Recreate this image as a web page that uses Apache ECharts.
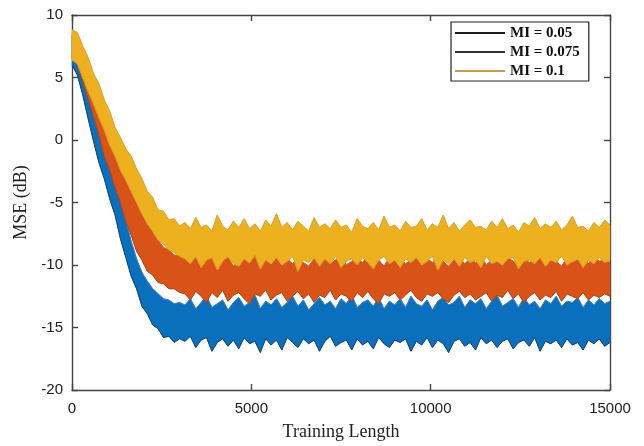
<!DOCTYPE html>
<html><head><meta charset="utf-8">
<script src="https://cdn.jsdelivr.net/npm/echarts@6/dist/echarts.min.js"></script>
<style>html,body{margin:0;padding:0;background:#fff}#c{width:644px;height:446px}</style>
</head><body><div id="c"></div>
<script>
// sample positions (training length)
const xs = [0,150,300,450,600,750,900,1050,1200,1350,
1500,1650,1800,1950,2100,2250,2400,2550,2700,2850,
3000,3150,3300,3450,3600,3750,3900,4050,4200,4350,
4500,4650,4800,4950,5100,5250,5400,5550,5700,5850,
6000,6150,6300,6450,6600,6750,6900,7050,7200,7350,
7500,7650,7800,7950,8100,8250,8400,8550,8700,8850,
9000,9150,9300,9450,9600,9750,9900,10050,10200,10350,
10500,10650,10800,10950,11100,11250,11400,11550,11700,11850,
12000,12150,12300,12450,12600,12750,12900,13050,13200,13350,
13500,13650,13800,13950,14100,14250,14400,14550,14700,14850,
15000];

const seriesNames = ['MI = 0.05','MI = 0.075','MI = 0.1'];
const xTicks = [0,5000,10000,15000];
const yTicks = [-20,-15,-10,-5,0,5,10];

// MI = 0.1 (yellow) upper / lower envelope of the noisy MSE trace, dB
const mi10Upper = [8.8,8.6,7.5,6.6,5.3,4.5,3.2,2.3,1.0,0.2,-0.7,-1.3,-2.3,-3.1,-4.1,-4.6,-5.6,-5.7,-6.4,-6.3,-6.9,
-6.6,-7.1,-6.2,-7.0,-6.8,-7.3,-6.0,-6.9,-7.2,-6.5,
-7.0,-6.3,-7.1,-6.7,-7.3,-6.4,-6.9,-5.9,-7.0,-6.6,
-7.2,-6.5,-6.9,-7.3,-6.2,-7.0,-6.7,-7.1,-6.4,-7.0,
-6.8,-7.4,-6.3,-6.9,-7.1,-6.6,-7.2,-6.1,-7.0,-6.8,
-7.3,-6.5,-7.0,-6.9,-6.3,-7.2,-6.7,-7.0,-6.0,-7.1,
-6.6,-7.3,-6.8,-6.4,-7.0,-6.9,-7.2,-6.5,-7.0,-6.3,
-7.1,-6.8,-7.4,-6.6,-6.9,-6.2,-7.1,-6.7,-7.0,-6.5,
-7.2,-6.8,-6.1,-7.0,-6.9,-7.3,-6.6,-7.0,-6.4,-6.8];
const mi10Lower = [6.4,6.1,5.0,3.9,2.9,1.8,0.8,-0.4,-1.3,-2.4,-3.2,-4.1,-5.0,-5.9,-6.7,-7.3,-8.0,-8.3,-8.8,-9.0,-9.3,
-9.5,-9.9,-9.3,-10.2,-9.6,-9.4,-10.4,-9.7,-9.3,-9.9,
-10.1,-9.5,-9.8,-9.2,-10.3,-9.6,-9.9,-9.4,-10.0,-9.7,
-9.3,-10.5,-9.6,-9.8,-9.4,-10.1,-9.5,-9.9,-9.3,-10.2,
-9.7,-9.5,-10.0,-9.4,-9.8,-10.3,-9.6,-9.3,-9.9,-9.6,
-10.2,-9.5,-9.8,-9.4,-10.0,-9.7,-9.3,-10.4,-9.6,-9.9,
-9.5,-10.1,-9.4,-9.8,-9.6,-10.2,-9.3,-9.9,-9.7,-10.0,
-9.5,-9.4,-10.3,-9.7,-9.6,-9.9,-9.4,-10.1,-9.6,-9.8,
-9.3,-10.0,-9.7,-9.5,-10.2,-9.6,-9.9,-9.4,-9.8,-9.6];

// MI = 0.075 (orange)
const mi075Upper = [8.4,8.0,7.0,5.8,4.4,3.1,1.8,0.5,-0.8,-2.0,-3.2,-4.0,-4.9,-5.8,-6.6,-7.4,-8.0,-8.6,-8.8,-9.2,-9.3,
-9.5,-9.8,-9.4,-10.0,-9.6,-9.3,-9.9,-9.7,-9.4,-10.1,
-9.6,-9.5,-9.9,-9.3,-9.8,-9.6,-10.0,-9.4,-9.7,-9.5,
-9.9,-9.4,-9.8,-10.1,-9.5,-9.7,-9.3,-9.9,-9.6,-9.4,
-10.0,-9.7,-9.5,-9.8,-9.3,-9.9,-9.6,-10.1,-9.4,-9.7,
-9.5,-9.9,-9.6,-9.3,-10.0,-9.5,-9.8,-9.4,-9.7,-10.1,
-9.6,-9.4,-9.9,-9.5,-9.8,-9.3,-10.0,-9.6,-9.5,-9.9,
-9.4,-9.7,-10.0,-9.5,-9.8,-9.6,-9.3,-9.9,-9.5,-9.7,
-10.1,-9.4,-9.8,-9.6,-9.5,-9.9,-9.3,-9.7,-9.6,-9.8];
const mi075Lower = [6.6,6.0,4.7,3.3,1.9,0.4,-1.3,-2.4,-3.8,-5.0,-6.5,-7.6,-8.9,-9.6,-10.5,-10.8,-11.4,-11.5,-11.9,-11.9,-12.2,
-12.3,-12.8,-12.1,-12.5,-13.0,-12.2,-12.6,-12.0,-12.9,-12.4,
-12.2,-12.7,-13.1,-12.3,-12.5,-12.0,-12.8,-12.4,-12.2,-12.9,
-12.5,-12.1,-12.7,-12.3,-13.0,-12.4,-12.6,-12.0,-12.8,-12.3,
-12.5,-12.9,-12.2,-12.6,-12.1,-12.7,-13.1,-12.3,-12.5,-12.2,
-12.8,-12.4,-12.0,-12.6,-12.9,-12.3,-12.5,-12.2,-12.7,-13.0,
-12.4,-12.1,-12.6,-12.3,-12.8,-12.5,-12.2,-12.9,-12.4,-12.6,
-12.0,-12.7,-12.3,-13.0,-12.5,-12.2,-12.8,-12.4,-12.6,-12.1,
-12.9,-12.3,-12.5,-12.7,-12.2,-12.8,-12.4,-12.6,-12.3,-12.5];

// MI = 0.05 (blue)
const mi05Upper = [8.3,7.7,6.0,4.3,2.5,0.9,-0.5,-1.9,-3.4,-4.8,-6.4,-8.1,-9.5,-10.6,-11.3,-11.9,-12.3,-12.7,-12.8,-13.1,-13.0,
-13.2,-12.7,-13.5,-13.0,-12.5,-13.4,-13.1,-12.8,-13.6,-13.0,
-12.6,-13.3,-13.0,-12.4,-13.5,-12.9,-13.2,-12.7,-13.4,-13.0,
-12.5,-13.3,-12.8,-13.6,-13.1,-12.6,-13.2,-12.9,-13.5,-12.7,
-13.1,-12.4,-13.4,-13.0,-12.8,-13.3,-12.6,-13.5,-12.9,-13.2,
-12.7,-13.4,-12.5,-13.1,-13.3,-12.8,-13.6,-12.9,-12.6,-13.2,
-13.0,-12.5,-13.4,-12.8,-13.1,-12.7,-13.5,-12.9,-12.4,-13.3,
-13.0,-12.7,-13.4,-12.6,-13.2,-12.9,-13.5,-12.8,-13.1,-12.5,
-13.3,-12.9,-13.0,-12.6,-13.4,-12.8,-13.2,-12.7,-13.1,-12.9];
const mi05Lower = [6.0,5.2,3.6,1.7,-0.1,-1.8,-3.1,-4.7,-6.0,-7.9,-9.4,-10.9,-11.9,-13.3,-13.9,-14.8,-15.1,-15.8,-15.7,-16.2,-15.9,
-16.1,-15.7,-16.6,-16.0,-15.8,-16.9,-16.2,-15.9,-16.5,-16.0,
-16.7,-15.8,-16.3,-16.1,-17.0,-15.9,-16.4,-16.0,-16.8,-15.8,
-16.2,-16.6,-15.9,-16.3,-16.0,-16.9,-16.1,-15.7,-16.5,-16.2,
-16.0,-16.8,-15.9,-16.4,-16.1,-16.7,-15.8,-16.3,-16.6,-16.0,
-16.2,-15.9,-16.9,-16.1,-16.4,-15.8,-16.6,-16.0,-16.3,-17.0,
-16.1,-15.9,-16.5,-16.2,-16.8,-15.8,-16.3,-16.0,-16.6,-16.1,
-15.9,-16.7,-16.2,-16.0,-16.5,-15.8,-16.9,-16.1,-16.3,-16.0,
-16.6,-15.9,-16.4,-16.2,-16.8,-16.0,-16.3,-15.9,-16.5,-16.2];

const chart = echarts.init(document.getElementById('c'), null, {renderer:'canvas'});

function band(name, upper, lower, fill, topLine, lowLine, z) {
  const data = xs.map((x,i)=>[x, upper[i], lower[i]]);
  return {
    name: name, type:'custom', data: data, z: z, silent:true, animation:false,
    encode:{x:0, y:[1,2]},
    itemStyle:{color:fill},
    renderItem: function(params, api) {
      if (params.dataIndex !== 0) return null;
      const up = data.map(d => api.coord([d[0], d[1]]));
      const lo = data.map(d => api.coord([d[0], d[2]]));
      const poly = up.concat(lo.slice().reverse());
      return {
        type:'group',
        children:[
          {type:'polygon', shape:{points:poly}, style:{fill:fill, stroke:fill, lineWidth:0.5}},
          {type:'polyline', shape:{points:up}, style:{fill:null, stroke:topLine, lineWidth:1}},
          {type:'polyline', shape:{points:lo}, style:{fill:null, stroke:lowLine, lineWidth:1}}
        ]
      };
    }
  };
}

const axisLbl = {fontFamily:'Liberation Sans, Arial, sans-serif', fontSize:15, color:'#222', formatter: v => String(v)};
const lineSty = {color:'#444', width:1.4};

chart.setOption({
  animation:false,
  backgroundColor:'#fff',
  grid:{left:72, right:34, top:15, bottom:53},
  legend:{
    data:[
      {name:seriesNames[0], itemStyle:{color:'#1a1a1a'}},
      {name:seriesNames[1], itemStyle:{color:'#3a3030'}},
      {name:seriesNames[2], itemStyle:{color:'#c9a04a'}}
    ],
    icon:'rect', orient:'vertical', left:451, top:22, itemWidth:50, itemHeight:2, itemGap:3,
    padding:[3,9,2,4], borderColor:'#222', borderWidth:1.2, backgroundColor:'#fff', z:20,
    selectedMode:false,
    textStyle:{fontFamily:'Liberation Serif, serif', fontWeight:'bold', fontSize:15, color:'#111', lineHeight:16}
  },
  xAxis:[
    {type:'value', min:xTicks[0], max:xTicks[xTicks.length-1], interval:xTicks[1]-xTicks[0],
     name:'Training Length', nameLocation:'middle', nameGap:33,
     nameTextStyle:{fontFamily:'Liberation Serif, serif', fontSize:18, color:'#222'},
     axisLine:{show:true, onZero:false, lineStyle:lineSty}, axisTick:{show:true, inside:true, length:6, lineStyle:lineSty},
     axisLabel:Object.assign({margin:11}, axisLbl), splitLine:{show:false}},
    {type:'value', position:'top', min:xTicks[0], max:xTicks[xTicks.length-1], interval:xTicks[1]-xTicks[0],
     axisLine:{show:true, onZero:false, lineStyle:lineSty}, axisTick:{show:true, inside:true, length:6, lineStyle:lineSty},
     axisLabel:{show:false}, splitLine:{show:false}}
  ],
  yAxis:[
    {type:'value', min:yTicks[0], max:yTicks[yTicks.length-1], interval:yTicks[1]-yTicks[0],
     name:'MSE (dB)', nameLocation:'middle', nameGap:38,
     nameTextStyle:{fontFamily:'Liberation Serif, serif', fontSize:18, color:'#222'},
     axisLine:{show:true, onZero:false, lineStyle:lineSty}, axisTick:{show:true, inside:true, length:6, lineStyle:lineSty},
     axisLabel:Object.assign({margin:9}, axisLbl), splitLine:{show:false}},
    {type:'value', position:'right', min:yTicks[0], max:yTicks[yTicks.length-1], interval:yTicks[1]-yTicks[0],
     axisLine:{show:true, onZero:false, lineStyle:lineSty}, axisTick:{show:true, inside:true, length:6, lineStyle:lineSty},
     axisLabel:{show:false}, splitLine:{show:false}}
  ],
  series:[
    band(seriesNames[0], mi05Upper, mi05Lower, '#0a6fbd', '#3b7fc2', '#173f6e', 2),
    band(seriesNames[1], mi075Upper, mi075Lower, '#d95319', '#cf5a22', '#a9461a', 3),
    band(seriesNames[2], mi10Upper, mi10Lower, '#edb120', '#d6a52c', '#d9a02a', 4)
  ]
});
</script></body></html>
